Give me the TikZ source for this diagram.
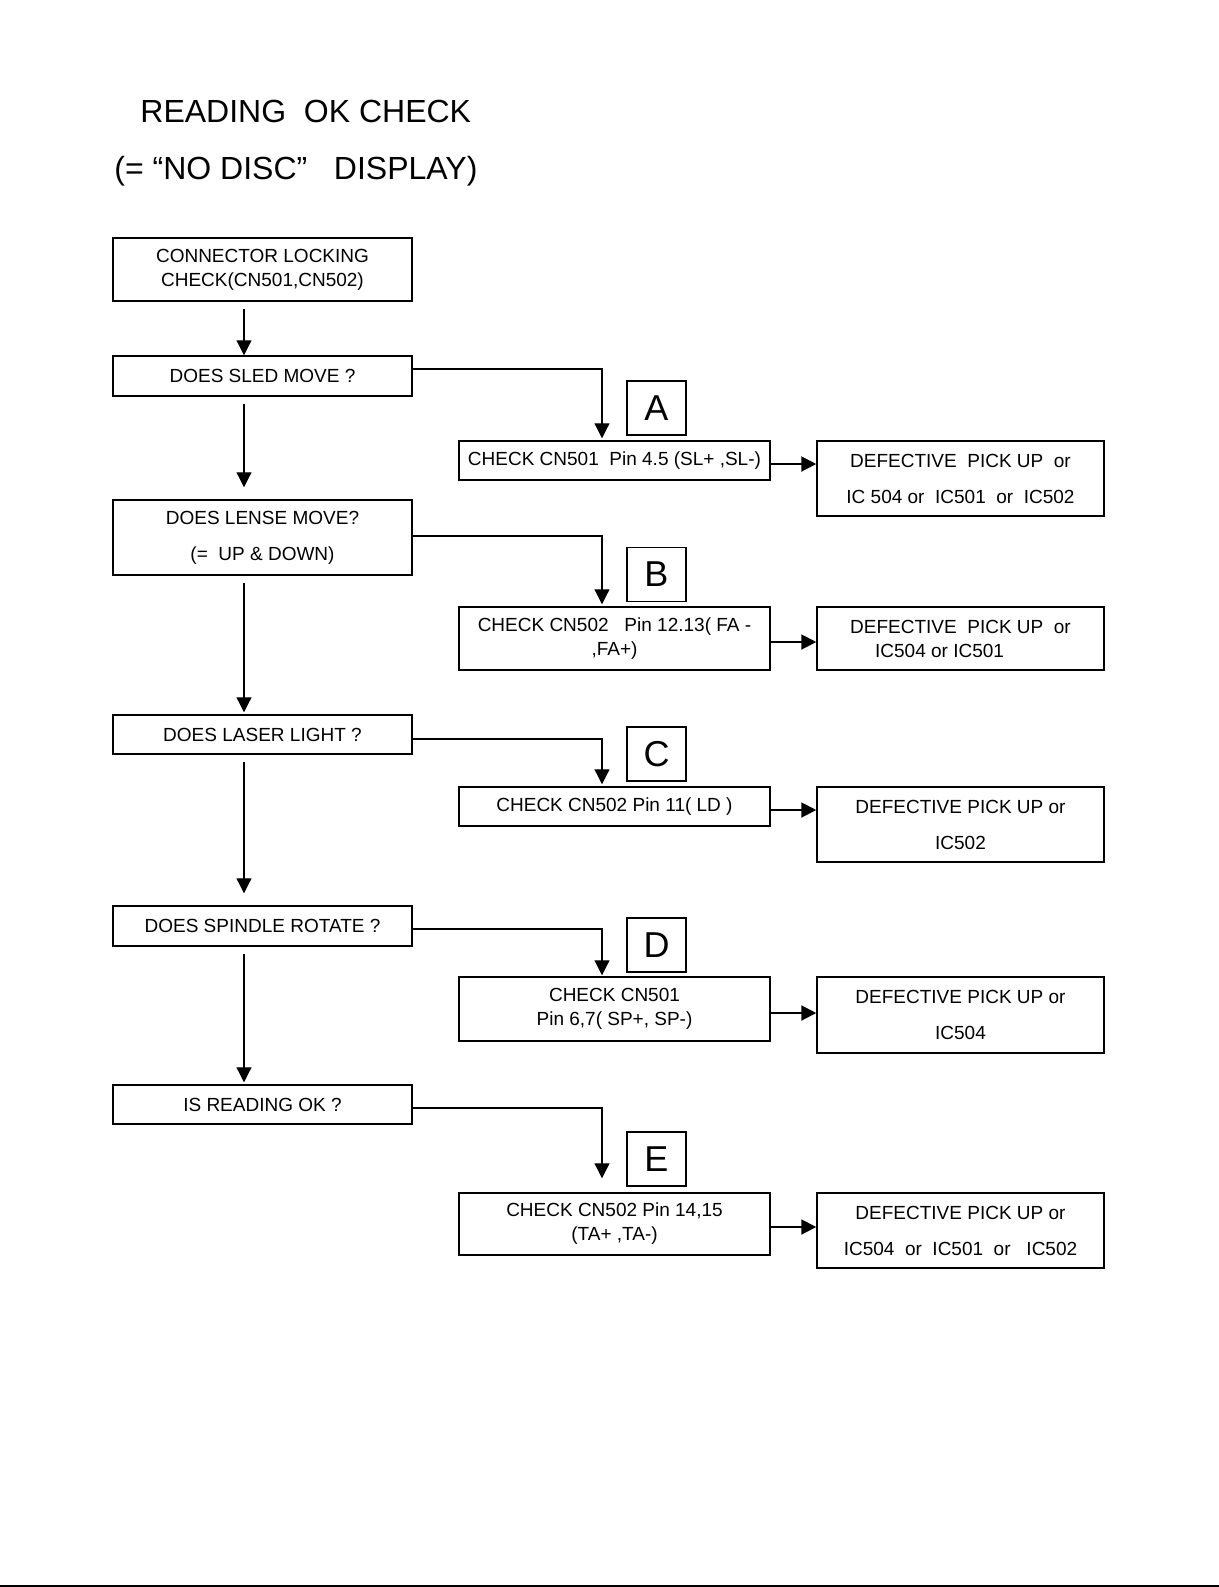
\documentclass[tikz,border=0pt]{standalone}
\usepackage{fontspec}
\setmainfont{Liberation Sans}
\usetikzlibrary{arrows.meta,positioning,calc}

\begin{document}
\begin{tikzpicture}[x=0.5pt,y=-0.5pt,>={Triangle[length=7.5pt,width=7.5pt]},
  box/.style={draw,line width=0.75pt,inner sep=1pt,align=center,font=\fontsize{9.5}{12}\selectfont},
  qbox/.style={box,minimum width=149.5pt},
  chkbox/.style={box,minimum width=155.5pt},
  defbox/.style={box,minimum width=143.5pt},
  tag/.style={draw,line width=0.75pt,minimum width=29.5pt,minimum height=27pt,inner sep=0pt,font=\fontsize{18}{18}\selectfont},
  link/.style={->,line width=0.6pt}]
\useasboundingbox (0,0) rectangle (1219,1587);
% --- title ---
\node[anchor=base west,inner sep=0pt,font=\fontsize{16}{16}\selectfont] (title) at (140,122.5) {READING \ OK CHECK};
\node[anchor=base west,inner sep=0pt,font=\fontsize{16}{16}\selectfont] (subtitle) at (114,179) {(= “NO DISC” \ \ DISPLAY)};
% --- question column ---
\node[qbox,minimum height=31.5pt] (start) at (262.5,269.5) {CONNECTOR LOCKING\\CHECK(CN501,CN502)};
\node[qbox,minimum height=20pt] (sled) at (262.5,376) {DOES SLED MOVE ?};
\node[qbox,minimum height=37.5pt] (lense) at (262.5,537.5) {DOES LENSE MOVE?\\[6pt](= \ UP \& DOWN)};
\node[qbox,minimum height=19.5pt] (laser) at (262.5,734.5) {DOES LASER LIGHT ?};
\node[qbox,minimum height=20pt] (spindle) at (262.5,926) {DOES SPINDLE ROTATE ?};
\node[qbox,minimum height=19.5pt] (reading) at (262.5,1104.5) {IS READING OK ?};
\foreach \a/\b/\g in {start/sled/0,sled/lense/12,lense/laser/2,laser/spindle/12,spindle/reading/2}
  \draw[link] ($(\a.south)+(-18.5,7)$) -- ($(\b.north)+(-18.5,-\g)$);
% --- check column ---
\node[chkbox,minimum height=19.5pt] (chkA) at (614.5,460.5) {CHECK CN501 \ Pin 4.5 (SL+ ,SL-)};
\node[chkbox,minimum height=31.5pt] (chkB) at (614.5,638.5) {CHECK CN502 \ \ Pin 12.13( FA -\\,FA+)};
\node[chkbox,minimum height=19.5pt] (chkC) at (614.5,806.5) {CHECK CN502 Pin 11( LD )};
\node[chkbox,minimum height=32pt] (chkD) at (614.5,1009) {CHECK CN501\\Pin 6,7( SP+, SP-)};
\node[chkbox,minimum height=31pt] (chkE) at (614.5,1224) {CHECK CN502 Pin 14,15\\(TA+ ,TA-)};
\foreach \n/\y in {A/408,B/574.5,C/754,D/945,E/1159}
  \node[tag] (tag\n) at (656.5,\y) {\n};
% --- result column ---
\node[defbox,minimum height=37.5pt] (defA) at (960.5,478.5) {DEFECTIVE \ PICK UP \ or\\[6pt]IC 504 or \ IC501 \ or \ IC502};
\node[defbox,minimum height=31.5pt] (defB) at (960.5,638.5) {DEFECTIVE \ PICK UP \ or\\\hspace*{-2.2em}IC504 or IC501};
\node[defbox,minimum height=37.5pt] (defC) at (960.5,824.5) {DEFECTIVE PICK UP or\\[6pt]IC502};
\node[defbox,minimum height=38pt] (defD) at (960.5,1015) {DEFECTIVE PICK UP or\\[6pt]IC504};
\node[defbox,minimum height=37.5pt] (defE) at (960.5,1230.5) {DEFECTIVE PICK UP or\\[6pt]IC504 \ or \ IC501 \ or \ \ IC502};
% --- branches ---
\foreach \q/\n/\dy/\g in {sled/A/-7/2,lense/B/-1.5/2,laser/C/4.5/2,spindle/D/3/1,reading/E/3.5/14}
  \draw[link] ($(\q.east)+(0,\dy)$) -| ($(chk\n.north)+(-12.5,-\g)$);
\foreach \n/\dy in {A/3.5,B/3.5,C/3.5,D/4,E/3} {
  \coordinate (r\n) at ($(chk\n.east)+(0,\dy)$);
  \draw[link,line width=1pt] (r\n) -- (r\n -| def\n.west);
}
% bottom rule
\draw[line width=1pt] (0,1586) -- (1219,1586);
\end{tikzpicture}
\end{document}
